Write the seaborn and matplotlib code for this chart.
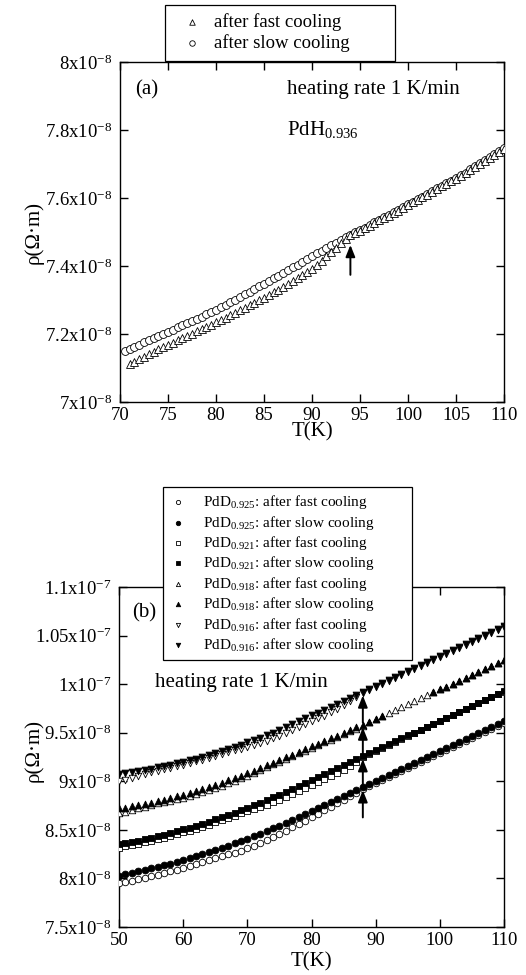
import numpy as np
import matplotlib
matplotlib.use("Agg")
import matplotlib.pyplot as plt
import seaborn as sns

nan = np.nan
RHO_UNIT = 1e-8  # resistivity values below are in units of 1e-8 ohm·m

# ---------------- panel (a): PdH0.936 ----------------
T_A = [70.5, 71.0, 71.5, 72.0, 72.5, 73.0, 73.5, 74.0, 74.5, 75.0,
       75.5, 76.0, 76.5, 77.0, 77.5, 78.0, 78.5, 79.0, 79.5, 80.0,
       80.5, 81.0, 81.5, 82.0, 82.5, 83.0, 83.5, 84.0, 84.5, 85.0,
       85.5, 86.0, 86.5, 87.0, 87.5, 88.0, 88.5, 89.0, 89.5, 90.0,
       90.5, 91.0, 91.5, 92.0, 92.5, 93.0, 93.5, 94.0, 94.5, 95.0,
       95.5, 96.0, 96.5, 97.0, 97.5, 98.0, 98.5, 99.0, 99.5, 100.0,
       100.5, 101.0, 101.5, 102.0, 102.5, 103.0, 103.5, 104.0, 104.5, 105.0,
       105.5, 106.0, 106.5, 107.0, 107.5, 108.0, 108.5, 109.0, 109.5, 110.0]

RHO_A_SLOW = [7.150, 7.157, 7.163, 7.169, 7.176, 7.182, 7.188, 7.194, 7.201, 7.207,
              7.213, 7.220, 7.226, 7.232, 7.239, 7.245, 7.251, 7.258, 7.264, 7.270,
              7.278, 7.286, 7.293, 7.301, 7.309, 7.317, 7.325, 7.332, 7.340, 7.348,
              7.356, 7.364, 7.371, 7.379, 7.387, 7.396, 7.404, 7.412, 7.420, 7.428,
              7.437, 7.445, 7.453, 7.462, 7.469, 7.477, 7.484, 7.491, 7.499, 7.506,
              7.513, 7.521, 7.528, 7.536, 7.543, 7.550, 7.558, 7.565, 7.573, 7.581,
              7.589, 7.596, 7.604, 7.612, 7.620, 7.628, 7.636, 7.643, 7.651, 7.659,
              7.667, 7.675, 7.684, 7.693, 7.702, 7.711, 7.720, 7.729, 7.738, 7.747]

RHO_A_FAST = [nan, 7.112, 7.119, 7.126, 7.133, 7.140, 7.147, 7.155, 7.162, 7.169,
              7.175, 7.182, 7.188, 7.195, 7.201, 7.208, 7.214, 7.221, 7.227, 7.234,
              7.241, 7.248, 7.256, 7.263, 7.270, 7.277, 7.285, 7.292, 7.300, 7.307,
              7.315, 7.323, 7.330, 7.338, 7.347, 7.355, 7.364, 7.373, 7.381, 7.390,
              7.402, 7.415, 7.428, 7.441, 7.454, 7.467, 7.479, 7.490, 7.497, 7.504,
              7.511, 7.519, 7.526, 7.534, 7.541, 7.548, 7.556, 7.563, 7.571, 7.579,
              7.587, 7.594, 7.602, 7.610, 7.618, 7.626, 7.634, 7.641, 7.649, 7.657,
              7.665, 7.673, 7.682, 7.691, 7.700, 7.709, 7.718, 7.727, 7.736, 7.745]

ARROW_A = (94.0, 7.462, 7.374)  # T, tip, tail

XTICKS_A = [70, 75, 80, 85, 90, 95, 100, 105, 110]
YTICKS_A = [7.0, 7.2, 7.4, 7.6, 7.8, 8.0]
YLABELS_A = ["7x10$^{-8}$", "7.2x10$^{-8}$", "7.4x10$^{-8}$",
             "7.6x10$^{-8}$", "7.8x10$^{-8}$", "8x10$^{-8}$"]

# ---------------- panel (b): PdD_x ----------------
T_B = [50, 51, 52, 53, 54, 55, 56, 57, 58, 59,
       60, 61, 62, 63, 64, 65, 66, 67, 68, 69,
       70, 71, 72, 73, 74, 75, 76, 77, 78, 79,
       80, 81, 82, 83, 84, 85, 86, 87, 88, 89,
       90, 91, 92, 93, 94, 95, 96, 97, 98, 99,
       100, 101, 102, 103, 104, 105, 106, 107, 108, 109,
       110]

RHO_925_FAST = [7.950, 7.963, 7.977, 7.992, 8.007, 8.023, 8.039, 8.056, 8.073, 8.091,
                8.110, 8.129, 8.149, 8.170, 8.191, 8.213, 8.230, 8.248, 8.266, 8.285,
                8.310, 8.335, 8.361, 8.393, 8.425, 8.458, 8.491, 8.525, 8.559, 8.595,
                8.630, 8.666, 8.702, 8.738, 8.774, 8.810, 8.846, 8.882, 8.918, 8.952,
                8.985, 9.016, 9.047, 9.078, 9.109, 9.140, 9.171, 9.202, 9.233, 9.264,
                9.295, 9.326, 9.357, 9.388, 9.419, 9.450, 9.481, 9.512, 9.543, 9.574,
                9.605]
RHO_925_SLOW = [8.030, 8.043, 8.057, 8.072, 8.087, 8.103, 8.119, 8.136, 8.153, 8.171,
                8.190, 8.209, 8.229, 8.250, 8.271, 8.293, 8.315, 8.338, 8.361, 8.385,
                8.410, 8.435, 8.461, 8.488, 8.515, 8.543, 8.571, 8.600, 8.629, 8.660,
                8.690, 8.721, 8.752, 8.783, 8.814, 8.845, 8.876, 8.907, 8.938, 8.969,
                9.000, 9.031, 9.062, 9.093, 9.124, 9.155, 9.186, 9.217, 9.248, 9.279,
                9.310, 9.341, 9.372, 9.403, 9.434, 9.465, 9.496, 9.527, 9.558, 9.589,
                9.620]
RHO_921_FAST = [8.310, 8.332, 8.345, 8.359, 8.373, 8.388, 8.404, 8.421, 8.438, 8.456,
                8.474, 8.493, 8.513, 8.533, 8.555, 8.577, 8.599, 8.622, 8.646, 8.671,
                8.696, 8.717, 8.739, 8.761, 8.784, 8.808, 8.837, 8.867, 8.898, 8.929,
                8.959, 8.990, 9.020, 9.051, 9.081, 9.112, 9.157, 9.203, 9.248, 9.284,
                9.314, 9.345, 9.375, 9.406, 9.436, 9.467, 9.497, 9.528, 9.558, 9.589,
                9.619, 9.650, 9.680, 9.711, 9.741, 9.772, 9.802, 9.833, 9.863, 9.894,
                9.924]
RHO_921_SLOW = [8.350, 8.362, 8.375, 8.389, 8.403, 8.418, 8.434, 8.451, 8.468, 8.486,
                8.504, 8.523, 8.543, 8.563, 8.585, 8.607, 8.629, 8.652, 8.676, 8.701,
                8.726, 8.752, 8.779, 8.806, 8.834, 8.863, 8.892, 8.922, 8.953, 8.984,
                9.014, 9.045, 9.075, 9.106, 9.136, 9.167, 9.197, 9.228, 9.258, 9.289,
                9.319, 9.350, 9.380, 9.411, 9.441, 9.472, 9.502, 9.533, 9.563, 9.594,
                9.624, 9.655, 9.685, 9.716, 9.746, 9.777, 9.807, 9.838, 9.868, 9.899,
                9.929]
RHO_918_FAST = [8.670, 8.686, 8.702, 8.720, 8.737, 8.758, 8.772, 8.787, 8.802, 8.816,
                8.832, 8.850, 8.870, 8.891, 8.911, 8.933, 8.955, 8.979, 9.004, 9.030,
                9.058, 9.090, 9.121, 9.150, 9.176, 9.202, 9.231, 9.259, 9.287, 9.315,
                9.344, 9.371, 9.400, 9.428, 9.456, 9.484, 9.513, 9.540, 9.570, 9.606,
                9.640, 9.670, 9.704, 9.736, 9.768, 9.798, 9.828, 9.858, 9.888, 9.918,
                9.946, 9.975, 10.004, 10.034, 10.063, 10.094, 10.124, 10.154, 10.184, 10.214,
                10.244]
RHO_918_SLOW = [8.720, 8.730, 8.742, 8.755, 8.767, 8.781, 8.795, 8.811, 8.828, 8.844,
                8.862, 8.880, 8.900, 8.921, 8.941, 8.963, 8.985, 9.009, 9.034, 9.058,
                9.084, 9.110, 9.138, 9.166, 9.191, 9.217, 9.246, 9.274, 9.302, 9.330,
                9.359, 9.386, 9.415, 9.443, 9.471, 9.499, 9.528, 9.555, 9.584, 9.614,
                9.644, 9.674, nan, nan, nan, nan, nan, nan, nan, 9.915,
                9.945, 9.975, 10.005, 10.035, 10.065, 10.096, 10.126, 10.156, 10.186, 10.216,
                10.246]
RHO_916_FAST = [9.000, 9.018, 9.038, 9.058, 9.078, 9.095, 9.110, 9.126, 9.140, 9.154,
                9.170, 9.186, 9.204, 9.222, 9.240, 9.260, 9.280, 9.302, 9.320, 9.336,
                9.350, 9.369, 9.392, 9.416, 9.442, 9.470, 9.500, 9.529, 9.559, 9.588,
                9.618, 9.647, 9.677, 9.710, 9.746, 9.785, 9.828, 9.869, 9.906, 9.940,
                9.971, 10.002, 10.033, 10.064, 10.095, 10.126, 10.157, 10.188, 10.219, 10.250,
                10.281, 10.312, 10.343, 10.374, 10.405, 10.436, 10.467, 10.498, 10.529, 10.560,
                10.591]
RHO_916_SLOW = [9.080, 9.088, 9.098, 9.108, 9.118, 9.130, 9.142, 9.156, 9.170, 9.184,
                9.200, 9.216, 9.234, 9.252, 9.270, 9.290, 9.310, 9.332, 9.354, 9.376,
                9.400, 9.424, 9.450, 9.476, 9.502, 9.530, 9.560, 9.589, 9.619, 9.648,
                9.678, 9.707, 9.737, 9.766, 9.796, 9.825, 9.855, 9.884, 9.914, 9.945,
                9.976, 10.007, 10.038, 10.069, 10.100, 10.131, 10.162, 10.193, 10.224, 10.255,
                10.286, 10.317, 10.348, 10.379, 10.410, 10.441, 10.472, 10.503, 10.534, 10.565,
                10.596]

ARROW_T_B = 88

XTICKS_B = [50, 60, 70, 80, 90, 100, 110]
YTICKS_B = [7.5, 8.0, 8.5, 9.0, 9.5, 10.0, 10.5, 11.0]
YLABELS_B = ["7.5x10$^{-8}$", "8x10$^{-8}$", "8.5x10$^{-8}$", "9x10$^{-8}$",
             "9.5x10$^{-8}$", "1x10$^{-7}$", "1.05x10$^{-7}$", "1.1x10$^{-7}$"]

LABEL_FAST = "after fast cooling"
LABEL_SLOW = "after slow cooling"

# ---------------- style ----------------
sns.set_style("ticks")
plt.rcParams.update({
    "font.family": ["Liberation Serif", "DejaVu Serif"],
    "mathtext.fontset": "custom",
    "mathtext.rm": "Liberation Serif",
    "mathtext.it": "Liberation Serif:italic",
    "mathtext.bf": "Liberation Serif:bold",
    "axes.edgecolor": "black",
    "axes.linewidth": 1.0,
    "text.color": "black",
    "axes.labelcolor": "black",
    "xtick.color": "black",
    "ytick.color": "black",
})

W, H = 526, 975
fig = plt.figure(figsize=(W / 100, H / 100), dpi=100)
fig.patch.set_facecolor("white")
ax_a = fig.add_axes([120 / W, 1 - 402 / H, 384 / W, 340 / H])
ax_b = fig.add_axes([119 / W, 1 - 927 / H, 385 / W, 340 / H])


def draw(ax, t, rho, marker, filled, size, label):
    sns.scatterplot(x=t, y=np.asarray(rho) * RHO_UNIT, ax=ax, marker=marker, s=size,
                    color="black" if filled else "white", edgecolor="black",
                    linewidth=0.6, label=label, legend=False, zorder=3)


def style_axes(ax, xlim, ylim, xticks, yticks, ylabels):
    ax.set_xlim(*xlim)
    ax.set_ylim(ylim[0] * RHO_UNIT, ylim[1] * RHO_UNIT)
    ax.set_xticks(xticks)
    ax.set_xticklabels([str(v) for v in xticks])
    ax.set_yticks([v * RHO_UNIT for v in yticks])
    ax.set_yticklabels(ylabels)
    ax.tick_params(axis="both", which="major", direction="in", top=True, right=True,
                   length=6, width=1.0, labelsize=13.5)
    ax.tick_params(axis="x", pad=3.5)
    ax.tick_params(axis="y", pad=5.5)
    ax.minorticks_off()
    ax.grid(False)
    ax.set_facecolor("white")
    for sp in ax.spines.values():
        sp.set_linewidth(1.0)
        sp.set_color("black")


# panel (a)
draw(ax_a, T_A, RHO_A_SLOW, "o", False, 32, LABEL_SLOW)
draw(ax_a, T_A, RHO_A_FAST, "^", False, 32, LABEL_FAST)
style_axes(ax_a, (70, 110), (7.0, 8.0), XTICKS_A, YTICKS_A, YLABELS_A)
ax_a.set_xlabel("T(K)", fontsize=15)
ax_a.set_ylabel("ρ(Ω·m)", fontsize=15)
ax_a.xaxis.set_label_coords(0.5, -0.06)
ax_a.yaxis.set_label_coords(-0.20, 0.5)
ax_a.text(0.039, 0.918, "(a)", transform=ax_a.transAxes, fontsize=15, va="center")
ax_a.text(0.435, 0.918, "heating rate 1 K/min", transform=ax_a.transAxes,
          fontsize=15, va="center")
ax_a.text(0.435, 0.80, "PdH$_{0.936}$", transform=ax_a.transAxes, fontsize=15, va="center")
ax_a.annotate("", xy=(ARROW_A[0], ARROW_A[1] * RHO_UNIT),
              xytext=(ARROW_A[0], ARROW_A[2] * RHO_UNIT),
              arrowprops=dict(arrowstyle="-|>,head_length=0.7,head_width=0.28",
                              color="black", lw=1.4, shrinkA=0, shrinkB=0), zorder=4)

handles, labels = ax_a.get_legend_handles_labels()
order = [labels.index(LABEL_FAST), labels.index(LABEL_SLOW)]
leg_a = ax_a.legend([handles[i] for i in order], [labels[i] for i in order],
                    loc="upper left", bbox_to_anchor=(165 / W, 1 - 5 / H, 230 / W, 0),
                    bbox_transform=fig.transFigure, mode="expand", borderaxespad=0,
                    fontsize=13.5, markerscale=0.7, handlelength=2.0, handletextpad=0.15,
                    labelspacing=0.16, borderpad=0.45, frameon=True, fancybox=False,
                    framealpha=1, edgecolor="black", scatterpoints=1)
leg_a.get_frame().set_linewidth(0.9)

# panel (b)
series_b = [
    ("0.925", "o", RHO_925_FAST, RHO_925_SLOW),
    ("0.921", "s", RHO_921_FAST, RHO_921_SLOW),
    ("0.918", "^", RHO_918_FAST, RHO_918_SLOW),
    ("0.916", "v", RHO_916_FAST, RHO_916_SLOW),
]
for comp, mk, fast, slow in series_b:
    draw(ax_b, T_B, fast, mk, False, 22, f"PdD$_{{{comp}}}$: {LABEL_FAST}")
    draw(ax_b, T_B, slow, mk, True, 24, f"PdD$_{{{comp}}}$: {LABEL_SLOW}")

style_axes(ax_b, (50, 110), (7.5, 11.0), XTICKS_B, YTICKS_B, YLABELS_B)
ax_b.set_xlabel("T(K)", fontsize=15)
ax_b.set_ylabel("ρ(Ω·m)", fontsize=15)
ax_b.xaxis.set_label_coords(0.5, -0.074)
ax_b.yaxis.set_label_coords(-0.197, 0.52)
ax_b.text(0.034, 0.924, "(b)", transform=ax_b.transAxes, fontsize=15, va="center")
ax_b.text(0.0935, 0.718, "heating rate 1 K/min", transform=ax_b.transAxes,
          fontsize=15, va="center")

idx88 = T_B.index(ARROW_T_B)
for _, _, _, slow in series_b:
    tip = slow[idx88] - 0.03
    ax_b.annotate("", xy=(ARROW_T_B, tip * RHO_UNIT), xytext=(ARROW_T_B, (tip - 0.28) * RHO_UNIT),
                  arrowprops=dict(arrowstyle="-|>,head_length=0.7,head_width=0.28",
                                  color="black", lw=1.4, shrinkA=0, shrinkB=0), zorder=4)

leg_b = ax_b.legend(loc="upper left", bbox_to_anchor=(163 / W, 1 - 487 / H, 249 / W, 0),
                    bbox_transform=fig.transFigure, mode="expand", borderaxespad=0,
                    fontsize=11, markerscale=0.65, handlelength=1.2, handletextpad=1.0,
                    labelspacing=0.16, borderpad=0.4, frameon=True, fancybox=False,
                    framealpha=1, edgecolor="black", scatterpoints=1)
leg_b.get_frame().set_linewidth(0.9)
leg_b.set_zorder(10)

fig.savefig("out.png", dpi=100, facecolor="white")
